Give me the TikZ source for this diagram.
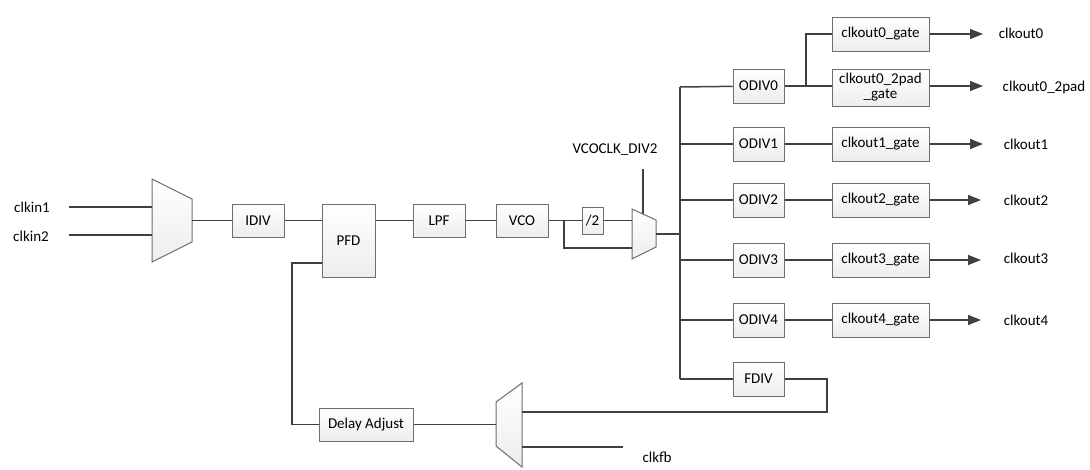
\documentclass[tikz,border=0pt]{standalone}
\usepackage{fontspec}
\setmainfont{Carlito}
\usepackage{tikz}
\usetikzlibrary{shapes,arrows.meta}

\definecolor{wire}{HTML}{404040}
\definecolor{boxline}{HTML}{6E6E6E}

\tikzset{
  blk/.style={draw=boxline, line width=1pt, top color=white, bottom color=gray!14,
    minimum width=52pt, minimum height=33pt, inner sep=1pt, align=center},
  gatebox/.style={blk, minimum width=97pt, minimum height=34pt},
  lbl/.style={inner sep=0pt},
  wr/.style={draw=wire, line width=1.5pt},
  mux/.style={draw=boxline, line width=1pt, top color=white, bottom color=gray!14},
  outarrow/.style={wr, -{Triangle[length=13pt,width=10pt]}}
}

\begin{document}
\begin{tikzpicture}[x=1pt, y=-1pt, font=\fontsize{15}{17}\selectfont]
\useasboundingbox (0,0) rectangle (1090,469);

% input mux
\path[mux] (152,179) -- (192,199) -- (192,242) -- (152,262) -- cycle;
\coordinate (m1a) at (152,207);
\coordinate (m1b) at (152,235);
\coordinate (m1o) at (192,220.5);
\node[lbl] (clkin1) at (32,207) {clkin1};
\node[lbl] (clkin2) at (31,236) {clkin2};
\coordinate (in1) at (69,207);
\coordinate (in2) at (69,235);
\draw[wr] (in1) -- (m1a);
\draw[wr] (in2) -- (m1b);

% main chain
\node[blk] (idiv) at (258,220.5) {IDIV};
\node[blk, minimum width=53pt, minimum height=73pt] (pfd) at (348.5,240.5) {PFD};
\node[blk] (lpf) at (439,220.5) {LPF};
\node[blk] (vco) at (522,220.5) {VCO};
\node[blk, minimum width=21pt, minimum height=27pt] (div2) at (592.5,220.5) {/2};
\draw[wr] (m1o) -- (idiv);
\draw[wr] (idiv) -- (idiv -| pfd.west);
\draw[wr] (idiv -| pfd.east) -- (lpf);
\draw[wr] (lpf) -- (vco);
\draw[wr] (vco) -- (div2);

% vco mux
\path[mux] (632,209) -- (656,220) -- (656,247) -- (632,259) -- cycle;
\coordinate (m2a) at (632,220.5);
\coordinate (m2b) at (632,248);
\coordinate (m2s) at (643,214);
\coordinate (m2o) at (656,234);
\coordinate (br) at (564,220.5);
\draw[wr] (div2) -- (m2a);
\draw[wr] (br) |- (m2b);
\node[lbl] (vcosel) at (615,150) {VCOCLK\_DIV2};
\coordinate (sel) at (643,169);
\draw[wr] (sel) -- (m2s);

% output bus
\coordinate (bustop) at (680,87);
\coordinate (busbot) at (680,379);
\coordinate (busin) at (680,234);
\draw[wr] (bustop) -- (busbot);
\draw[wr] (m2o) -- (busin);

\node[blk, minimum width=51pt, minimum height=34pt] (odiv0) at (758.5,86) {ODIV0};
\node[blk, minimum width=51pt, minimum height=34pt] (odiv1) at (758.5,144) {ODIV1};
\node[blk, minimum width=51pt, minimum height=34pt] (odiv2) at (758.5,200) {ODIV2};
\node[blk, minimum width=51pt, minimum height=34pt] (odiv3) at (758.5,260) {ODIV3};
\node[blk, minimum width=51pt, minimum height=34pt] (odiv4) at (758.5,320) {ODIV4};
\node[blk, minimum width=51pt, minimum height=34pt] (fdiv) at (758.5,379) {FDIV};
\draw[wr] (bustop) -- (odiv0);
\draw[wr] (odiv1 -| bustop) -- (odiv1);
\draw[wr] (odiv2 -| bustop) -- (odiv2);
\draw[wr] (odiv3 -| bustop) -- (odiv3);
\draw[wr] (odiv4 -| bustop) -- (odiv4);
\draw[wr] (busbot) -- (fdiv);

% gates
\node[gatebox] (gate0) at (880.5,34) {clkout0\_gate};
\node[gatebox, minimum height=37pt] (gate0p) at (880.5,87.5) {\fontsize{15}{15}\selectfont clkout0\_2pad\\[-2pt]\_gate};
\node[gatebox] (gate1) at (880.5,144) {clkout1\_gate};
\node[gatebox] (gate2) at (880.5,200) {clkout2\_gate};
\node[gatebox] (gate3) at (880.5,260) {clkout3\_gate};
\node[gatebox] (gate4) at (880.5,320) {clkout4\_gate};
\coordinate (split) at (806,86);
\draw[wr] (odiv0) -- (split) |- (gate0);
\draw[wr] (split) -- (gate0p.west |- split);
\draw[wr] (odiv1) -- (gate1);
\draw[wr] (odiv2) -- (gate2);
\draw[wr] (odiv3) -- (gate3);
\draw[wr] (odiv4) -- (gate4);

% outputs
\node[lbl] (out0) at (1021,33) {clkout0};
\node[lbl] (out0p) at (1044,87) {clkout0\_2pad};
\node[lbl] (out1) at (1026,144) {clkout1};
\node[lbl] (out2) at (1026,200) {clkout2};
\node[lbl] (out3) at (1026,258) {clkout3};
\node[lbl] (out4) at (1026,320) {clkout4};
\draw[outarrow] (gate0) -- (983,34);
\draw[outarrow] (gate0p.east |- split) -- (983,86);
\draw[outarrow] (gate1) -- (983,144);
\draw[outarrow] (gate2) -- (981,200);
\draw[outarrow] (gate3) -- (981,260);
\draw[outarrow] (gate4) -- (981,320);

% feedback path
\path[mux] (496,402) -- (522,383) -- (522,467) -- (496,446) -- cycle;
\coordinate (m3a) at (522,412);
\coordinate (m3b) at (522,447);
\coordinate (m3o) at (496,424.5);
\node[blk, minimum width=94pt] (dly) at (366,424.5) {Delay Adjust};
\coordinate (fbcorner) at (827,379);
\draw[wr] (fdiv) -- (fbcorner) |- (m3a);
\coordinate (fbin) at (623,447);
\draw[wr] (fbin) -- (m3b);
\node[lbl] (clkfb) at (657,457) {clkfb};
\draw[wr] (m3o) -- (dly);
\coordinate (pfdfb) at (322,263);
\coordinate (fbleft) at (292,263);
\draw[wr] (pfdfb) -- (fbleft) |- (dly);
\end{tikzpicture}
\end{document}
